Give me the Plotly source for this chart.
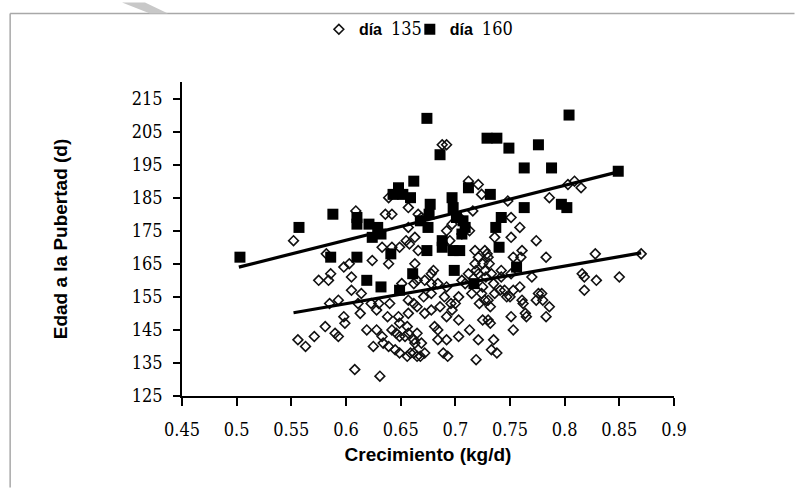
import plotly.graph_objects as go

# Edad a la pubertad vs. crecimiento: day-135 (open diamonds) and day-160 (filled squares)
x_135 = [0.552, 0.556, 0.563, 0.571, 0.575, 0.581, 0.582, 0.584, 0.586, 0.585,
         0.590, 0.593, 0.593, 0.598, 0.598, 0.599, 0.603, 0.605, 0.605, 0.609,
         0.608, 0.611, 0.613, 0.614, 0.619, 0.623, 0.624, 0.625, 0.628, 0.630,
         0.631, 0.633, 0.633, 0.634, 0.636, 0.638, 0.639, 0.639, 0.639, 0.640,
         0.642, 0.642, 0.642, 0.645, 0.646, 0.648, 0.649, 0.649, 0.649, 0.655,
         0.654, 0.656, 0.656, 0.657, 0.657, 0.657, 0.657, 0.657, 0.659, 0.658,
         0.662, 0.662, 0.662, 0.662, 0.663, 0.663, 0.665, 0.665, 0.665, 0.665,
         0.666, 0.666, 0.669, 0.669, 0.668, 0.671, 0.672, 0.672, 0.672, 0.678,
         0.678, 0.678, 0.680, 0.681, 0.684, 0.684, 0.684, 0.688, 0.692, 0.689,
         0.690, 0.692, 0.692, 0.692, 0.692, 0.693, 0.695, 0.696, 0.697, 0.697,
         0.700, 0.703, 0.703, 0.703, 0.704, 0.706, 0.709, 0.712, 0.712, 0.713,
         0.713, 0.715, 0.716, 0.718, 0.718, 0.719, 0.719, 0.721, 0.721, 0.721,
         0.722, 0.724, 0.724, 0.725, 0.725, 0.725, 0.727, 0.727, 0.727, 0.728,
         0.729, 0.730, 0.730, 0.730, 0.731, 0.732, 0.732, 0.733, 0.733, 0.735,
         0.735, 0.736, 0.738, 0.741, 0.742, 0.745, 0.747, 0.748, 0.750, 0.751,
         0.751, 0.751, 0.753, 0.753, 0.753, 0.759, 0.759, 0.761, 0.760, 0.761,
         0.762, 0.764, 0.765, 0.770, 0.774, 0.774, 0.776, 0.779, 0.780, 0.783,
         0.783, 0.786, 0.786, 0.803, 0.809, 0.815, 0.816, 0.818, 0.818, 0.828,
         0.829, 0.850, 0.870, 0.678, 0.706, 0.721, 0.742, 0.751, 0.649, 0.663,
         0.686, 0.736, 0.651, 0.628]
y_135 = [172, 142, 140, 143, 160, 146, 168, 160, 162, 153,
         144, 143, 154, 164, 149, 147, 165, 161, 157, 181,
         133, 153, 150, 156, 145, 153, 166, 140, 145, 153,
         131, 143, 170, 141, 180, 149, 185, 165, 140, 153,
         180, 145, 170, 139, 144, 149, 147, 138, 170, 172,
         143, 146, 137, 144, 150, 182, 176, 154, 138, 171,
         142, 159, 153, 138, 173, 165, 144, 152, 160, 137,
         169, 180, 141, 179, 137, 155, 160, 150, 138, 151,
         156, 159, 163, 146, 145, 142, 159, 201, 201, 138,
         155, 142, 149, 158, 175, 137, 172, 153, 151, 177,
         153, 155, 143, 148, 179, 174, 159, 190, 162, 145,
         175, 156, 181, 169, 165, 136, 163, 189, 167, 142,
         153, 186, 156, 158, 148, 165, 169, 163, 154, 161,
         168, 167, 154, 148, 165, 152, 147, 162, 139, 159,
         142, 173, 138, 157, 163, 157, 155, 184, 155, 149,
         179, 173, 167, 145, 157, 176, 158, 169, 167, 154,
         153, 150, 149, 161, 172, 154, 156, 156, 154, 167,
         149, 185, 152, 189, 190, 188, 162, 161, 157, 168,
         160, 161, 168, 162, 160, 162, 161, 162, 143, 141,
         152, 156, 159, 151]

x_160 = [0.503, 0.557, 0.588, 0.586, 0.610, 0.610, 0.610, 0.621, 0.629, 0.624,
         0.632, 0.641, 0.619, 0.632, 0.649, 0.661, 0.699, 0.717, 0.756, 0.686,
         0.674, 0.662, 0.648, 0.643, 0.652, 0.659, 0.677, 0.676, 0.668, 0.675,
         0.697, 0.698, 0.701, 0.707, 0.709, 0.712, 0.688, 0.688, 0.674, 0.698,
         0.704, 0.729, 0.738, 0.749, 0.763, 0.776, 0.788, 0.804, 0.849, 0.763,
         0.797, 0.802, 0.732, 0.742, 0.737, 0.740, 0.706]
y_160 = [167, 176, 180, 167, 167, 179, 177, 177, 176, 173,
         174, 168, 160, 158, 157, 162, 163, 159, 164, 198,
         209, 190, 188, 186, 186, 185, 183, 180, 178, 176,
         185, 182, 179, 178, 176, 188, 172, 170, 169, 169,
         169, 203, 203, 200, 194, 201, 194, 210, 193, 182,
         183, 182, 186, 179, 176, 170, 174]

# Fitted trend lines (end points of each regression segment)
trend_135_x = [0.552, 0.870]
trend_135_y = [150.2, 168.3]
trend_160_x = [0.502, 0.849]
trend_160_y = [164.0, 192.8]

x_ticks = [0.45, 0.5, 0.55, 0.6, 0.65, 0.7, 0.75, 0.8, 0.85, 0.9]
x_tick_labels = ["0.45", "0.5", "0.55", "0.6", "0.65", "0.7", "0.75", "0.8", "0.85", "0.9"]
y_ticks = [125, 135, 145, 155, 165, 175, 185, 195, 205, 215]

SERIF = "DejaVu Serif Condensed"
SANS = "Liberation Sans"

# plot-area geometry in pixels, used to place the page decorations
L, R, T, B = 182, 674.4, 80, 396
PW, PH = R - L, B - T


def px_x(v):
    return (v - L) / PW


def px_y(v):
    return (B - v) / PH


def legend_label(num):
    return ("<b>día</b>&nbsp; <span style=\"font-family:'DejaVu Serif Condensed';"
            "font-size:18px;font-weight:normal\">" + num + "</span>")


def legend_box(x_left):
    return dict(
        orientation="h", x=px_x(x_left), xanchor="left",
        y=px_y(27), yanchor="middle",
        font=dict(family=SANS, size=16, color="#000000"),
        bgcolor="rgba(0,0,0,0)", borderwidth=0, itemsizing="trace",
    )


fig = go.Figure()
fig.add_trace(go.Scatter(
    x=x_135, y=y_135, mode="markers", name=legend_label("135"),
    legend="legend",
    marker=dict(symbol="diamond-open", size=7.5, color="#111111",
                line=dict(width=1.6, color="#111111")),
))
fig.add_trace(go.Scatter(
    x=x_160, y=y_160, mode="markers", name=legend_label("160"),
    legend="legend2",
    marker=dict(symbol="square", size=11, color="#000000",
                line=dict(width=0)),
))
fig.add_trace(go.Scatter(
    x=trend_135_x, y=trend_135_y, mode="lines", showlegend=False,
    line=dict(color="#000000", width=3.2), hoverinfo="skip",
))
fig.add_trace(go.Scatter(
    x=trend_160_x, y=trend_160_y, mode="lines", showlegend=False,
    line=dict(color="#000000", width=3.2), hoverinfo="skip",
))

wedge = (f"M {px_x(122)} {px_y(0)} L {px_x(145)} {px_y(0)} "
         f"L {px_x(168)} {px_y(11)} L {px_x(150)} {px_y(11)} Z")

fig.update_layout(
    width=795, height=488,
    margin=dict(l=182, r=121, t=80, b=92),
    paper_bgcolor="white", plot_bgcolor="white",
    showlegend=True,
    legend=legend_box(319),
    legend2=legend_box(410),
    xaxis=dict(
        range=[0.45, 0.9], tickvals=x_ticks, ticktext=x_tick_labels,
        showline=True, linecolor="#000000", linewidth=1.5,
        ticks="outside", ticklen=8, tickwidth=1.5, tickcolor="#000000",
        showgrid=False, zeroline=False,
        tickfont=dict(family=SERIF, size=18, color="#000000"),
        ticklabelstandoff=9,
        title=dict(text="<b>Crecimiento (kg/d)</b>", standoff=8,
                   font=dict(family=SANS, size=19, color="#000000")),
    ),
    yaxis=dict(
        range=[125, 220], tickvals=y_ticks,
        showline=True, linecolor="#000000", linewidth=1.5,
        ticks="outside", ticklen=7, tickwidth=1.5, tickcolor="#000000",
        showgrid=False, zeroline=False,
        tickfont=dict(family=SERIF, size=18, color="#000000"),
        ticklabelstandoff=7,
        title=dict(text="<b>Edad a la Pubertad (d)</b>", standoff=59,
                   font=dict(family=SANS, size=19, color="#000000")),
    ),
    shapes=[
        # page frame lines along the top and left edges
        dict(type="line", xref="paper", yref="paper",
             x0=px_x(10), x1=px_x(795), y0=px_y(11), y1=px_y(11),
             line=dict(color="#a8a8a8", width=1.5)),
        dict(type="line", xref="paper", yref="paper",
             x0=px_x(10), x1=px_x(10), y0=px_y(11), y1=px_y(488),
             line=dict(color="#a8a8a8", width=1.5)),
        dict(type="path", xref="paper", yref="paper", path=wedge,
             fillcolor="#c8c8c8", line=dict(width=0)),
    ],
)

fig.write_html("out.html")
